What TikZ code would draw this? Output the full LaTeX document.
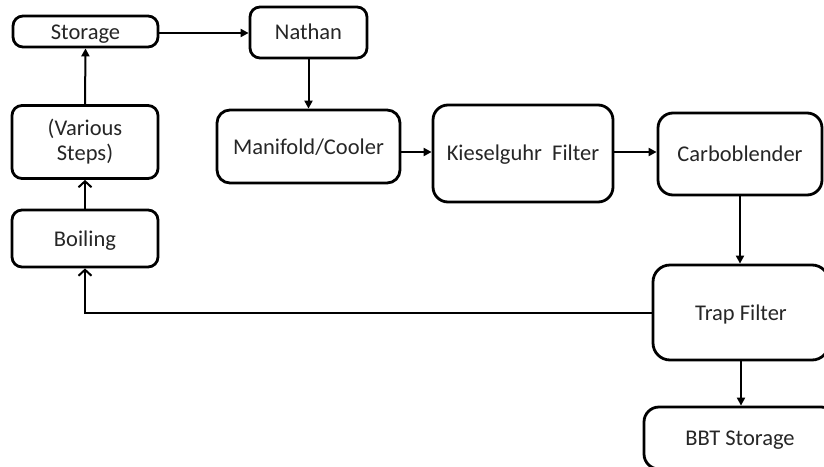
\documentclass[tikz,border=0pt]{standalone}
\usepackage{fontspec}
\setmainfont{Carlito}
\usetikzlibrary{arrows.meta}
\begin{document}
\begin{tikzpicture}[x=1pt,y=-1pt,
  box/.style={draw=black,line width=2.8pt,rounded corners=#1,align=center,
    inner sep=0pt,font=\fontsize{22.5}{25}\selectfont,text=black!85},
  box/.default=10pt,
  oneline/.style={text height=#1,text depth=0pt},
  oneline/.default=15pt,
  conn/.style={line width=2pt,-{Triangle[length=8pt,width=8pt]}},
  openconn/.style={line width=2pt,-{Straight Barb[length=6pt,width=13pt,line width=2pt]}}]
\useasboundingbox (0,0) rectangle (824,466);
\fill[white] (0,0) rectangle (824,466);
\clip (0,0) rectangle (824,466);
\node[box, oneline=16.5pt, minimum width=145pt, minimum height=31pt] (storage) at (85.5,31.5) {Storage};
\node[box, oneline=13pt, minimum width=117pt, minimum height=51pt] (nathan) at (308.5,32.5) {Nathan};
\node[box, minimum width=146pt, minimum height=73pt] (various) at (85,142) {(Various\\Steps)};
\node[box, oneline=16pt, minimum width=146pt, minimum height=57pt] (boiling) at (85,238.5) {Boiling};
\node[box=13pt, oneline=16.5pt, minimum width=183pt, minimum height=73pt] (manifold) at (308.5,146.5) {Manifold/Cooler};
\node[box=15pt, oneline=13pt, minimum width=180pt, minimum height=97pt] (kiesel) at (523,153.5) {Kieselguhr\ \ Filter};
\node[box=15pt, oneline=14pt, minimum width=164pt, minimum height=82pt] (carbo) at (740,154) {Carboblender};
\node[box=17pt, oneline=16pt, minimum width=176pt, minimum height=95pt] (trap) at (741,312.5) {Trap Filter};
\node[box=15pt, oneline=14pt, minimum width=192pt, minimum height=62pt] (bbt) at (740,438) {BBT Storage};
\draw[conn] (storage.east |- 0,33) -- (nathan.west |- 0,33);
\draw[conn] (nathan.south) -- (manifold.north);
\draw[conn] (manifold.east |- 0,152) -- (kiesel.west |- 0,152);
\draw[conn] (kiesel.east |- 0,152) -- (carbo.west |- 0,152);
\draw[conn] (carbo.south) -- (carbo.south |- trap.north);
\draw[conn] (trap.south) -- (trap.south |- bbt.north);
\draw[openconn] (trap.west) -| (boiling.south);
\draw[openconn] (boiling.north) -- (various.south);
\draw[conn] (various.north) -- (storage.south);
\end{tikzpicture}
\end{document}
